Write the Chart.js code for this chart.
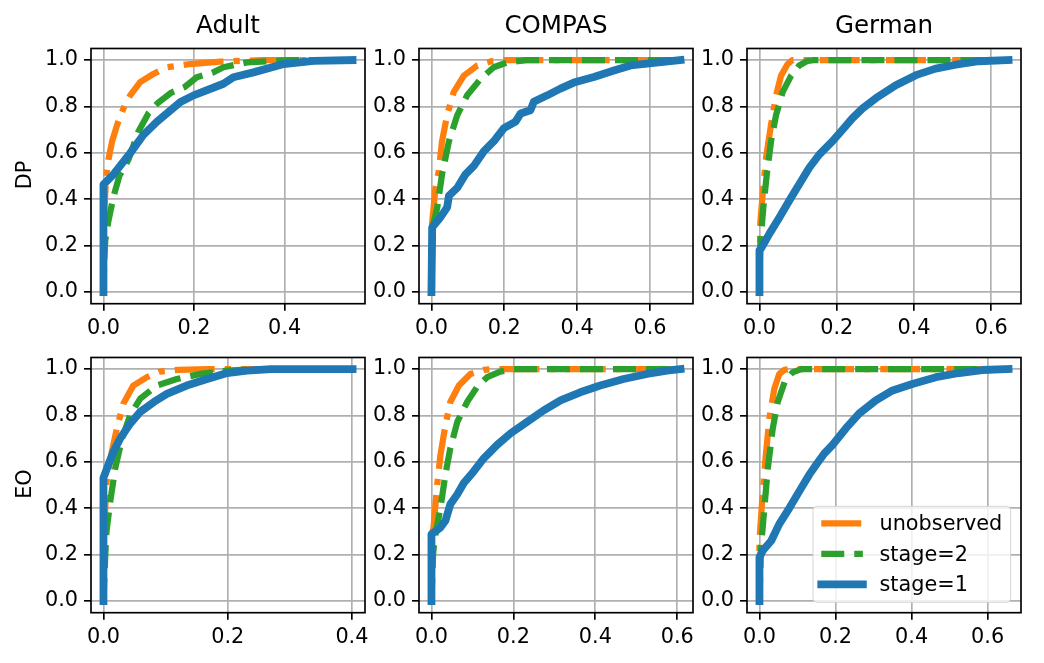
<!DOCTYPE html>
<html>
<head>
<meta charset="utf-8">
<script src="https://cdn.jsdelivr.net/npm/chart.js@4.4.1/dist/chart.umd.min.js"></script>
<style>
  body { margin: 0; background: #fff; }
  #figure { position: relative; width: 1044px; height: 663px; overflow: hidden; font-family: 'DejaVu Sans', sans-serif; color: #000; }
  #figure canvas { position: absolute; }
  .col-title { position: absolute; width: 274px; font-size: 24.5px; line-height: 1; text-align: center; white-space: nowrap; }
  .row-label { position: absolute; width: 60px; height: 24px; font-size: 20.8px; line-height: 24px; text-align: center; transform: rotate(-90deg); }
</style>
</head>
<body>
<div id="figure"></div>
<script>
// Data
// ////////////////////////////////////////////////////////////////

const datasetNames = ['Adult', 'COMPAS', 'German'];
const metricNames = ['DP', 'EO'];
const seriesLabels = ['unobserved', 'stage=2', 'stage=1'];
const yTicks = [0, 0.2, 0.4, 0.6, 0.8, 1.0];
const xTicksShort = [0, 0.2, 0.4];
const xTicksLong = [0, 0.2, 0.4, 0.6];

// [x, y] pairs
const dpAdultUnobserved = [[0, 0], [0.002, 0.35], [0.006, 0.5], [0.011, 0.571], [0.019, 0.649], [0.030, 0.72], [0.044, 0.791], [0.059, 0.848], [0.081, 0.905], [0.110, 0.940], [0.140, 0.969], [0.192, 0.983], [0.258, 0.993], [0.35, 1.0], [0.55, 1.0]];
const dpAdultStage2 = [[0, 0], [0.002, 0.15], [0.004, 0.222], [0.011, 0.307], [0.022, 0.41], [0.035, 0.50], [0.055, 0.57], [0.077, 0.691], [0.099, 0.770], [0.120, 0.815], [0.150, 0.860], [0.180, 0.885], [0.206, 0.926], [0.240, 0.945], [0.265, 0.969], [0.317, 0.990], [0.41, 1.0], [0.55, 1.0]];
const dpAdultStage1 = [[0, 0], [0, 0.464], [0.022, 0.507], [0.059, 0.599], [0.088, 0.677], [0.118, 0.734], [0.170, 0.819], [0.199, 0.848], [0.265, 0.898], [0.287, 0.926], [0.331, 0.947], [0.398, 0.983], [0.464, 0.997], [0.55, 1.0]];

const dpCompasUnobserved = [[0, 0], [0.002, 0.3], [0.011, 0.45], [0.020, 0.521], [0.029, 0.65], [0.043, 0.763], [0.061, 0.862], [0.089, 0.933], [0.126, 0.977], [0.162, 0.994], [0.2, 1.0], [0.684, 1.0]];
const dpCompasStage2 = [[0, 0], [0.003, 0.28], [0.016, 0.365], [0.029, 0.507], [0.048, 0.65], [0.071, 0.763], [0.098, 0.848], [0.135, 0.919], [0.171, 0.969], [0.208, 0.990], [0.26, 1.0], [0.684, 1.0]];
const dpCompasStage1 = [[0, 0], [0.002, 0.28], [0.025, 0.323], [0.043, 0.365], [0.048, 0.415], [0.071, 0.45], [0.093, 0.507], [0.116, 0.543], [0.144, 0.607], [0.171, 0.650], [0.199, 0.707], [0.231, 0.735], [0.245, 0.770], [0.272, 0.784], [0.281, 0.820], [0.318, 0.848], [0.354, 0.877], [0.391, 0.903], [0.446, 0.927], [0.501, 0.955], [0.547, 0.977], [0.611, 0.988], [0.684, 1.0]];

const dpGermanUnobserved = [[0, 0], [0.002, 0.294], [0.009, 0.436], [0.017, 0.578], [0.030, 0.721], [0.043, 0.848], [0.056, 0.933], [0.073, 0.983], [0.085, 1.0], [0.645, 1.0]];
const dpGermanStage2 = [[0, 0], [0.002, 0.2], [0.010, 0.365], [0.019, 0.507], [0.030, 0.65], [0.043, 0.763], [0.060, 0.862], [0.082, 0.933], [0.103, 0.977], [0.125, 0.997], [0.14, 1.0], [0.645, 1.0]];
const dpGermanStage1 = [[0, 0], [0, 0.18], [0.004, 0.188], [0.026, 0.252], [0.052, 0.323], [0.077, 0.394], [0.103, 0.465], [0.129, 0.536], [0.155, 0.593], [0.189, 0.650], [0.215, 0.700], [0.241, 0.750], [0.267, 0.792], [0.301, 0.835], [0.353, 0.892], [0.405, 0.935], [0.456, 0.963], [0.508, 0.980], [0.568, 0.995], [0.645, 1.0]];

const eoAdultUnobserved = [[0, 0], [0.002, 0.35], [0.005, 0.516], [0.0135, 0.644], [0.0216, 0.744], [0.032, 0.851], [0.048, 0.929], [0.070, 0.965], [0.091, 0.989], [0.12, 0.997], [0.17, 1.0], [0.401, 1.0]];
const eoAdultStage2 = [[0, 0], [0.003, 0.2], [0.005, 0.303], [0.011, 0.431], [0.019, 0.573], [0.030, 0.701], [0.043, 0.801], [0.059, 0.872], [0.086, 0.929], [0.118, 0.957], [0.156, 0.979], [0.199, 0.993], [0.24, 1.0], [0.401, 1.0]];
const eoAdultStage1 = [[0, 0], [0, 0.531], [0.008, 0.588], [0.016, 0.644], [0.027, 0.701], [0.043, 0.765], [0.059, 0.815], [0.081, 0.858], [0.102, 0.893], [0.134, 0.929], [0.167, 0.957], [0.199, 0.983], [0.231, 0.993], [0.27, 1.0], [0.401, 1.0]];

const eoCompasUnobserved = [[0, 0], [0.003, 0.3], [0.005, 0.317], [0.014, 0.502], [0.022, 0.630], [0.034, 0.758], [0.046, 0.858], [0.067, 0.929], [0.095, 0.979], [0.128, 0.997], [0.15, 1.0], [0.608, 1.0]];
const eoCompasStage2 = [[0, 0], [0.004, 0.2], [0.007, 0.26], [0.022, 0.402], [0.034, 0.545], [0.046, 0.658], [0.063, 0.772], [0.087, 0.858], [0.111, 0.922], [0.136, 0.965], [0.168, 0.989], [0.2, 1.0], [0.608, 1.0]];
const eoCompasStage1 = [[0, 0], [0, 0.289], [0.022, 0.317], [0.034, 0.346], [0.046, 0.417], [0.063, 0.46], [0.079, 0.509], [0.103, 0.559], [0.128, 0.616], [0.160, 0.673], [0.193, 0.723], [0.233, 0.772], [0.274, 0.822], [0.315, 0.865], [0.363, 0.900], [0.412, 0.929], [0.469, 0.957], [0.526, 0.979], [0.575, 0.993], [0.608, 1.0]];

const eoGermanUnobserved = [[0, 0], [0, 0.26], [0.007, 0.431], [0.016, 0.616], [0.026, 0.787], [0.039, 0.915], [0.052, 0.979], [0.066, 0.997], [0.08, 1.0], [0.655, 1.0]];
const eoGermanStage2 = [[0, 0], [0.004, 0.232], [0.013, 0.402], [0.022, 0.573], [0.035, 0.744], [0.048, 0.858], [0.066, 0.943], [0.087, 0.986], [0.11, 1.0], [0.655, 1.0]];
const eoGermanStage1 = [[0, 0], [0, 0.189], [0.009, 0.218], [0.031, 0.260], [0.052, 0.332], [0.079, 0.402], [0.105, 0.474], [0.131, 0.545], [0.150, 0.590], [0.170, 0.635], [0.192, 0.673], [0.227, 0.744], [0.262, 0.808], [0.306, 0.865], [0.350, 0.908], [0.402, 0.936], [0.464, 0.965], [0.525, 0.983], [0.586, 0.996], [0.655, 1.0]];

// Styles and layout
// ////////////////////////////////////////////////////////////////

const FONT = 'DejaVu Sans';
const TICK_SIZE = 20.8;

const seriesStyles = [
  { color: '#ff7f0e', width: 6.25, dash: [40, 10, 6.25, 10], cap: 'butt', order: 3 },
  { color: '#2ca02c', width: 6.25, dash: [23, 10], cap: 'butt', order: 2 },
  { color: '#1f77b4', width: 7.8, dash: [], cap: 'square', order: 1 },
];

const plotLefts = [91, 419, 747];
const plotTops = [46, 355];
const PLOT_W = 274;
const PLOT_H = 257.7;
const Y_AXIS_W = 60;
const X_AXIS_H = 44.3;
const PAD_TOP = 16;
const PAD_RIGHT = 24;

const panels = [
  { row: 0, col: 0, series: [dpAdultUnobserved, dpAdultStage2, dpAdultStage1], xTicks: xTicksShort },
  { row: 0, col: 1, series: [dpCompasUnobserved, dpCompasStage2, dpCompasStage1], xTicks: xTicksLong },
  { row: 0, col: 2, series: [dpGermanUnobserved, dpGermanStage2, dpGermanStage1], xTicks: xTicksLong },
  { row: 1, col: 0, series: [eoAdultUnobserved, eoAdultStage2, eoAdultStage1], xTicks: xTicksShort },
  { row: 1, col: 1, series: [eoCompasUnobserved, eoCompasStage2, eoCompasStage1], xTicks: xTicksLong },
  { row: 1, col: 2, series: [eoGermanUnobserved, eoGermanStage2, eoGermanStage1], xTicks: xTicksLong, legend: true },
];

// Plugins
// ////////////////////////////////////////////////////////////////

// Four black spines round the plot area, like matplotlib axes
const spinesPlugin = {
  id: 'spines',
  afterDatasetsDraw(chart) {
    const { ctx, chartArea } = chart;
    ctx.save();
    ctx.strokeStyle = '#000';
    ctx.lineWidth = 1.67;
    ctx.strokeRect(chartArea.left, chartArea.top, chartArea.right - chartArea.left, chartArea.bottom - chartArea.top);
    ctx.restore();
  },
};

// Legend box in the lower right corner of the plot area
const cornerLegendPlugin = {
  id: 'cornerLegend',
  afterDraw(chart, args, opts) {
    if (!opts.show) return;
    const { ctx, chartArea } = chart;
    const items = chart.data.datasets;
    const fs = TICK_SIZE;
    ctx.save();
    ctx.font = `${fs}px "${FONT}"`;
    const textW = Math.max(...items.map((d) => ctx.measureText(d.label).width));
    const pad = 0.4 * fs;
    const handleLen = 2 * fs;
    const textPad = 0.8 * fs;
    const rowH = 30.5;
    const w = pad + handleLen + textPad + textW + pad;
    const h = 96;
    const x0 = chartArea.right - 0.5 * fs - w;
    const y0 = chartArea.bottom - 0.5 * fs - h;

    ctx.beginPath();
    if (ctx.roundRect) ctx.roundRect(x0, y0, w, h, 4);
    else ctx.rect(x0, y0, w, h);
    ctx.fillStyle = 'rgba(255,255,255,0.8)';
    ctx.fill();
    ctx.strokeStyle = 'rgba(204,204,204,0.8)';
    ctx.lineWidth = 1;
    ctx.stroke();

    items.forEach((d, i) => {
      const cy = y0 + 17 + i * rowH;
      ctx.beginPath();
      ctx.setLineDash(d.borderDash || []);
      ctx.lineDashOffset = 0;
      ctx.lineCap = d.borderCapStyle;
      ctx.lineWidth = d.borderWidth;
      ctx.strokeStyle = d.borderColor;
      ctx.moveTo(x0 + pad, cy);
      ctx.lineTo(x0 + pad + handleLen, cy);
      ctx.stroke();
      ctx.setLineDash([]);
      ctx.fillStyle = '#000';
      ctx.textBaseline = 'alphabetic';
      ctx.fillText(d.label, x0 + pad + handleLen + textPad, cy + 7);
    });
    ctx.restore();
  },
};

// Build
// ////////////////////////////////////////////////////////////////

function axisOptions(min, max, ticks, isX) {
  return {
    type: 'linear',
    min,
    max,
    afterBuildTicks: (scale) => { scale.ticks = ticks.map((v) => ({ value: v })); },
    afterFit: (scale) => {
      if (isX) scale.height = X_AXIS_H;
      else scale.width = Y_AXIS_W;
    },
    grid: { color: '#b0b0b0', lineWidth: 1.67, tickColor: '#000', tickLength: 7, tickWidth: 1.67 },
    border: { display: false },
    ticks: {
      font: { family: FONT, size: TICK_SIZE },
      color: '#000',
      padding: isX ? 5 : 6,
      maxRotation: 0,
      autoSkip: false,
      callback: (v) => Number(v).toFixed(1),
    },
  };
}

const figure = document.getElementById('figure');

panels.forEach((panel) => {
  const left = plotLefts[panel.col];
  const top = plotTops[panel.row];

  const canvas = document.createElement('canvas');
  const cw = Y_AXIS_W + PLOT_W + PAD_RIGHT;
  const ch = Math.round(PAD_TOP + PLOT_H + X_AXIS_H);
  canvas.width = cw;
  canvas.height = ch;
  canvas.style.width = `${cw}px`;
  canvas.style.height = `${ch}px`;
  canvas.style.left = `${left - Y_AXIS_W}px`;
  canvas.style.top = `${top - PAD_TOP}px`;
  figure.appendChild(canvas);

  // matplotlib-style 5% margins round the data range
  const xMaxData = Math.max(...panel.series.map((s) => Math.max(...s.map((p) => p[0]))));

  const datasets = panel.series.map((pts, i) => ({
    label: seriesLabels[i],
    data: pts.map(([x, y]) => ({ x, y })),
    borderColor: seriesStyles[i].color,
    borderWidth: seriesStyles[i].width,
    borderDash: seriesStyles[i].dash,
    borderCapStyle: seriesStyles[i].cap,
    borderJoinStyle: 'round',
    pointRadius: 0,
    pointHoverRadius: 0,
    fill: false,
    tension: 0,
    order: seriesStyles[i].order,
    clip: 0,
  }));

  new Chart(canvas.getContext('2d'), {
    type: 'line',
    data: { datasets },
    options: {
      responsive: false,
      animation: false,
      devicePixelRatio: 1,
      events: [],
      layout: { padding: { top: PAD_TOP, right: PAD_RIGHT, left: 0, bottom: 0 } },
      plugins: {
        legend: { display: false },
        tooltip: { enabled: false },
        cornerLegend: { show: !!panel.legend },
      },
      scales: {
        x: axisOptions(-0.05 * xMaxData, 1.05 * xMaxData, panel.xTicks, true),
        y: axisOptions(-0.05, 1.05, yTicks, false),
      },
    },
    plugins: [spinesPlugin, cornerLegendPlugin],
  });
});

// Column titles and row labels
datasetNames.forEach((name, col) => {
  const div = document.createElement('div');
  div.className = 'col-title';
  div.textContent = name;
  div.style.left = `${plotLefts[col]}px`;
  div.style.top = '12.8px';
  figure.appendChild(div);
});

metricNames.forEach((name, row) => {
  const div = document.createElement('div');
  div.className = 'row-label';
  div.textContent = name;
  div.style.left = '-5.7px';
  div.style.top = `${plotTops[row] + PLOT_H / 2 - 12}px`;
  figure.appendChild(div);
});
</script>
</body>
</html>
